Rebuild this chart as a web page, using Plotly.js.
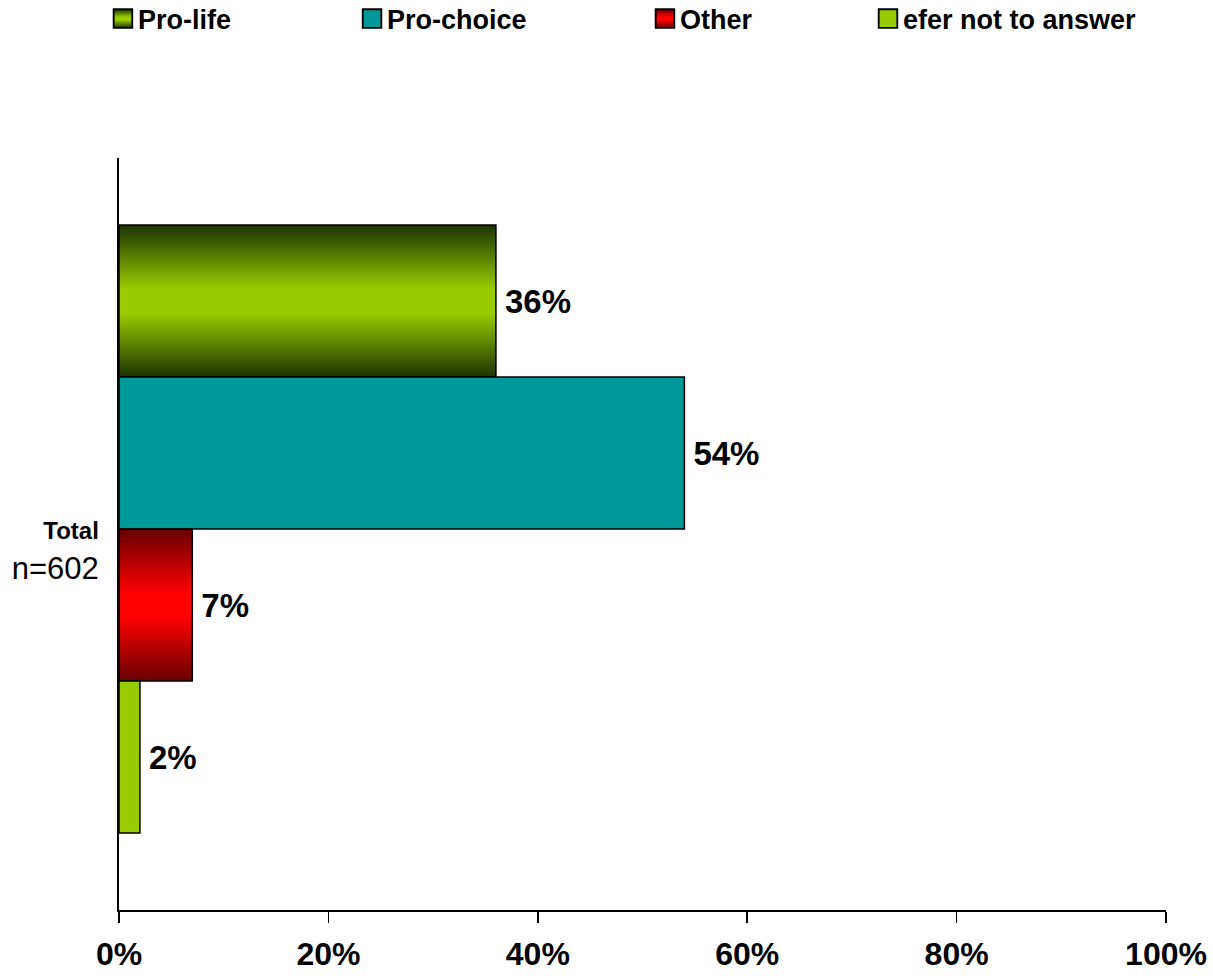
<!DOCTYPE html>
<html>
<head>
<meta charset="utf-8">
<script src="https://cdn.plot.ly/plotly-3.0.1.min.js"></script>
<style>
html,body{margin:0;padding:0;background:#fff;}
#chart{width:1213px;height:980px;}
</style>
</head>
<body>
<div id="chart"></div>
<script>
const categories = ["Total"];
const categoryLabels = ["<b style='font-size:24px'>Total</b><br>n=602"];
const seriesNames = ["Pro-life", "Pro-choice", "Other", "efer not to answer"];
const proLife = [36];
const proChoice = [54];
const other = [7];
const preferNot = [2];
const xTickVals = [0, 20, 40, 60, 80, 100];
const xTickText = ["0%", "20%", "40%", "60%", "80%", "100%"];

const seriesValues = [proLife, proChoice, other, preferNot];
const colors = ["#99CC00", "#009999", "#FF0000", "#99CC00"];
const legendIds = ["legend", "legend2", "legend3", "legend4"];
const legendX = [-0.0201, 0.2178, 0.4976, 0.7106];

const FONT = "Liberation Sans, Arial, sans-serif";

const traces = seriesValues.map((vals, i) => ({
  type: "bar",
  orientation: "h",
  name: seriesNames[i],
  y: categories,
  x: vals,
  text: vals.map(v => v + "%"),
  textposition: "outside",
  cliponaxis: false,
  textfont: {family: FONT, size: 33, color: "#000", weight: "bold"},
  marker: {color: colors[i], line: {color: "#000", width: 1.5}},
  legend: legendIds[i],
  hoverinfo: "skip"
}));

const layout = {
  width: 1213,
  height: 980,
  margin: {l: 119, r: 47, t: 158, b: 70},
  paper_bgcolor: "#fff",
  plot_bgcolor: "#fff",
  barmode: "group",
  bargap: 0.1915,
  showlegend: true,
  font: {family: FONT, color: "#000"},
  xaxis: {
    range: [0, 100],
    tickvals: xTickVals,
    ticktext: xTickText,
    ticks: "outside",
    ticklen: 11,
    tickwidth: 1.5,
    tickcolor: "#000",
    showline: true,
    linecolor: "#000",
    linewidth: 2,
    showgrid: false,
    zeroline: false,
    tickfont: {family: FONT, size: 32, color: "#000", weight: "bold"},
    ticklabelstandoff: 4,
    fixedrange: true
  },
  yaxis: {
    type: "category",
    range: [0.5066, -0.4934],
    tickvals: categories,
    ticktext: categoryLabels,
    showline: true,
    linecolor: "#000",
    linewidth: 2,
    ticks: "",
    showgrid: false,
    zeroline: false,
    tickfont: {family: FONT, size: 31, color: "#000"},
    ticklabelstandoff: 12,
    ticklabelshift: -19,
    fixedrange: true
  }
};

legendIds.forEach((id, i) => {
  layout[id] = {
    x: legendX[i],
    xanchor: "left",
    xref: "paper",
    y: 1 - 19 / 980,
    yref: "container",
    yanchor: "middle",
    orientation: "h",
    bgcolor: "rgba(0,0,0,0)",
    borderwidth: 0,
    font: {family: FONT, size: 27, color: "#000", weight: "bold"},
    itemclick: false,
    itemdoubleclick: false
  };
});

Plotly.newPlot("chart", traces, layout, {displayModeBar: false, staticPlot: true}).then(gd => {
  const svg = gd.querySelector(".main-svg");
  let defs = svg.querySelector("defs");
  const NS = "http://www.w3.org/2000/svg";
  function addGrad(id, stops) {
    const g = document.createElementNS(NS, "linearGradient");
    g.setAttribute("id", id);
    g.setAttribute("x1", "0"); g.setAttribute("y1", "0");
    g.setAttribute("x2", "0"); g.setAttribute("y2", "1");
    stops.forEach(([o, c]) => {
      const s = document.createElementNS(NS, "stop");
      s.setAttribute("offset", o);
      s.setAttribute("stop-color", c);
      g.appendChild(s);
    });
    defs.appendChild(g);
  }
  addGrad("gradProLife", [[0, "#1a3300"], [0.42, "#99CC00"], [0.58, "#99CC00"], [1, "#1a3300"]]);
  addGrad("gradOther", [[0, "#660000"], [0.42, "#FF0000"], [0.58, "#FF0000"], [1, "#660000"]]);
  const gradFor = {0: "url(#gradProLife)", 2: "url(#gradOther)"};
  const barTraces = gd.querySelectorAll(".barlayer .trace");
  barTraces.forEach((t, i) => {
    if (gradFor[i]) t.querySelectorAll(".point path").forEach(p => { p.style.fill = gradFor[i]; });
    // extra gap between bar end and its label
    t.querySelectorAll(".bartext").forEach(tx => {
      const tr = tx.getAttribute("transform") || "";
      tx.setAttribute("transform", "translate(6,0) " + tr);
    });
  });
  // legend symbols: larger squares closer to text
  legendIds.forEach((id, i) => {
    const lg = gd.querySelector(".infolayer ." + id);
    if (!lg) return;
    lg.querySelectorAll(".legendpoints path").forEach(p => {
      if (gradFor[i]) p.style.fill = gradFor[i];
      p.style.stroke = "#000";
      p.style.strokeWidth = "1.2px";
      p.setAttribute("transform", "translate(25,0) scale(1.55)");
    });
  });
});
</script>
</body>
</html>
